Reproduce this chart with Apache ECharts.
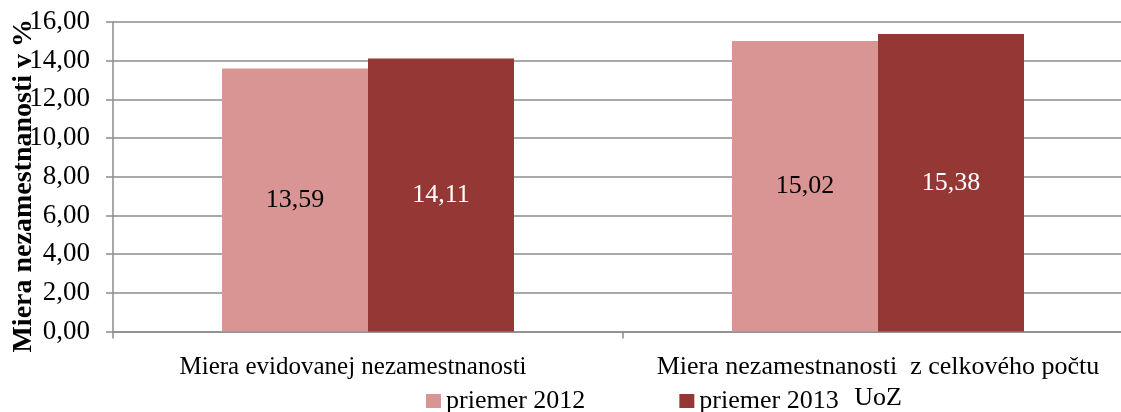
<!DOCTYPE html>
<html>
<head>
<meta charset="utf-8">
<script src="https://cdn.jsdelivr.net/npm/echarts@6/dist/echarts.min.js"></script>
<style>html,body{margin:0;padding:0;background:#fff}#c{width:1121px;height:412px}</style>
</head>
<body>
<div id="c"></div>
<script>
var categories = ['Miera evidovanej nezamestnanosti', 'Miera nezamestnanosti  z celkového počtu\nUoZ'];
var seriesNames = ['priemer 2012', 'priemer 2013'];
var values2012 = [13.59, 15.02];
var values2013 = [14.11, 15.38];
var yTitle = 'Miera nezamestnanosti v %';

var FONT = '"Liberation Serif", "Times New Roman", serif';
function fmt(v) { return Number(v).toFixed(2).replace('.', ','); }

var chart = echarts.init(document.getElementById('c'), null, {renderer: 'canvas'});
chart.setOption({
  animation: false,
  backgroundColor: '#ffffff',
  textStyle: {fontFamily: FONT},
  grid: {left: 113, width: 1020, top: 22, bottom: 80.5, containLabel: false, outerBoundsMode: 'none'},
  legend: {
    left: 426, top: 388, padding: 0,
    itemWidth: 15, itemHeight: 14, itemGap: 94,
    icon: 'rect',
    textStyle: {fontFamily: FONT, fontSize: 26, color: '#000'},
    data: seriesNames
  },
  xAxis: {
    type: 'category',
    data: categories,
    axisLine: {lineStyle: {color: '#8c8c8c', width: 1.5}},
    axisTick: {show: true, length: 7, lineStyle: {color: '#8c8c8c', width: 1.5}},
    axisLabel: {
      fontFamily: FONT, fontSize: 26, color: '#000', margin: 20, lineHeight: 31,
      interval: 0,
      formatter: function (v, i) { return i === 0 ? '{s|' + v + '}' : v; },
      rich: {s: {fontFamily: FONT, fontSize: 25, color: '#000', padding: [0, 30, 0, 0]}}
    }
  },
  yAxis: {
    type: 'value',
    min: 0, max: 16, interval: 2,
    name: yTitle,
    nameLocation: 'middle',
    nameRotate: 90,
    nameGap: 75,
    nameMoveOverlap: false,
    nameTextStyle: {fontFamily: FONT, fontSize: 28, fontWeight: 'bold', color: '#000', padding: [0, 18, 0, 0]},
    axisLine: {show: true, lineStyle: {color: '#8c8c8c', width: 1.5}},
    axisTick: {show: true, length: 7, lineStyle: {color: '#8c8c8c', width: 1.5}},
    splitLine: {show: true, lineStyle: {color: '#8c8c8c', width: 1.5}},
    axisLabel: {fontFamily: FONT, fontSize: 27, color: '#000', margin: 23, formatter: fmt}
  },
  series: [
    {
      name: seriesNames[0], type: 'bar', data: values2012,
      barWidth: 146, barGap: '0%',
      itemStyle: {color: '#D99594'},
      label: {show: true, position: 'inside', fontFamily: FONT, fontSize: 26, color: '#000', formatter: function(p){return fmt(p.value);}}
    },
    {
      name: seriesNames[1], type: 'bar', data: values2013,
      barWidth: 146, barGap: '0%',
      itemStyle: {color: '#953735'},
      label: {show: true, position: 'inside', fontFamily: FONT, fontSize: 26, color: '#fff', formatter: function(p){return fmt(p.value);}}
    }
  ]
});
</script>
</body>
</html>
